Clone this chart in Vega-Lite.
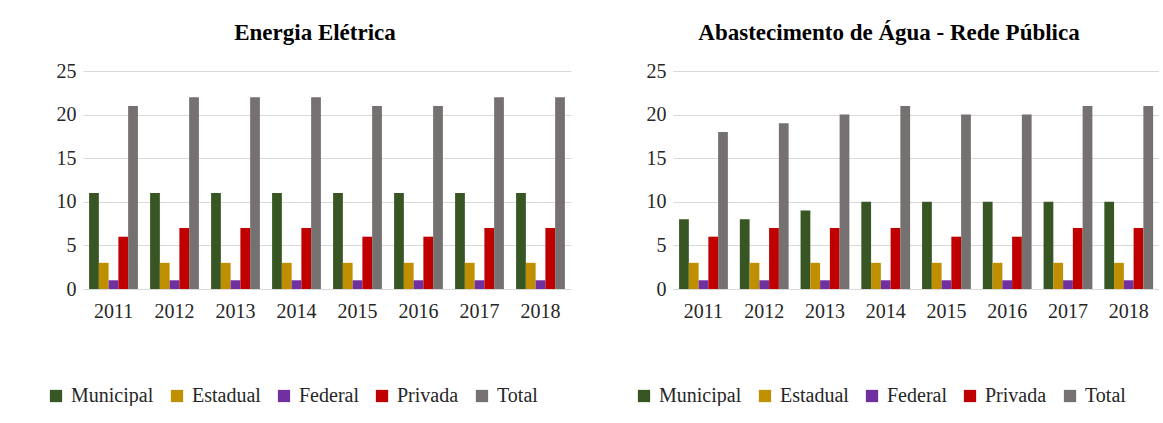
{
  "$schema": "https://vega.github.io/schema/vega-lite/v6.json",
  "background": "white",
  "padding": {"left": 46, "top": 22, "right": 0, "bottom": 0},
  "spacing": 63,
  "datasets": {
    "energia": [
      {"ano": "2011", "tipo": "Municipal", "valor": 11}, {"ano": "2011", "tipo": "Estadual", "valor": 3}, {"ano": "2011", "tipo": "Federal", "valor": 1}, {"ano": "2011", "tipo": "Privada", "valor": 6}, {"ano": "2011", "tipo": "Total", "valor": 21},
      {"ano": "2012", "tipo": "Municipal", "valor": 11}, {"ano": "2012", "tipo": "Estadual", "valor": 3}, {"ano": "2012", "tipo": "Federal", "valor": 1}, {"ano": "2012", "tipo": "Privada", "valor": 7}, {"ano": "2012", "tipo": "Total", "valor": 22},
      {"ano": "2013", "tipo": "Municipal", "valor": 11}, {"ano": "2013", "tipo": "Estadual", "valor": 3}, {"ano": "2013", "tipo": "Federal", "valor": 1}, {"ano": "2013", "tipo": "Privada", "valor": 7}, {"ano": "2013", "tipo": "Total", "valor": 22},
      {"ano": "2014", "tipo": "Municipal", "valor": 11}, {"ano": "2014", "tipo": "Estadual", "valor": 3}, {"ano": "2014", "tipo": "Federal", "valor": 1}, {"ano": "2014", "tipo": "Privada", "valor": 7}, {"ano": "2014", "tipo": "Total", "valor": 22},
      {"ano": "2015", "tipo": "Municipal", "valor": 11}, {"ano": "2015", "tipo": "Estadual", "valor": 3}, {"ano": "2015", "tipo": "Federal", "valor": 1}, {"ano": "2015", "tipo": "Privada", "valor": 6}, {"ano": "2015", "tipo": "Total", "valor": 21},
      {"ano": "2016", "tipo": "Municipal", "valor": 11}, {"ano": "2016", "tipo": "Estadual", "valor": 3}, {"ano": "2016", "tipo": "Federal", "valor": 1}, {"ano": "2016", "tipo": "Privada", "valor": 6}, {"ano": "2016", "tipo": "Total", "valor": 21},
      {"ano": "2017", "tipo": "Municipal", "valor": 11}, {"ano": "2017", "tipo": "Estadual", "valor": 3}, {"ano": "2017", "tipo": "Federal", "valor": 1}, {"ano": "2017", "tipo": "Privada", "valor": 7}, {"ano": "2017", "tipo": "Total", "valor": 22},
      {"ano": "2018", "tipo": "Municipal", "valor": 11}, {"ano": "2018", "tipo": "Estadual", "valor": 3}, {"ano": "2018", "tipo": "Federal", "valor": 1}, {"ano": "2018", "tipo": "Privada", "valor": 7}, {"ano": "2018", "tipo": "Total", "valor": 22}
    ],
    "agua": [
      {"ano": "2011", "tipo": "Municipal", "valor": 8}, {"ano": "2011", "tipo": "Estadual", "valor": 3}, {"ano": "2011", "tipo": "Federal", "valor": 1}, {"ano": "2011", "tipo": "Privada", "valor": 6}, {"ano": "2011", "tipo": "Total", "valor": 18},
      {"ano": "2012", "tipo": "Municipal", "valor": 8}, {"ano": "2012", "tipo": "Estadual", "valor": 3}, {"ano": "2012", "tipo": "Federal", "valor": 1}, {"ano": "2012", "tipo": "Privada", "valor": 7}, {"ano": "2012", "tipo": "Total", "valor": 19},
      {"ano": "2013", "tipo": "Municipal", "valor": 9}, {"ano": "2013", "tipo": "Estadual", "valor": 3}, {"ano": "2013", "tipo": "Federal", "valor": 1}, {"ano": "2013", "tipo": "Privada", "valor": 7}, {"ano": "2013", "tipo": "Total", "valor": 20},
      {"ano": "2014", "tipo": "Municipal", "valor": 10}, {"ano": "2014", "tipo": "Estadual", "valor": 3}, {"ano": "2014", "tipo": "Federal", "valor": 1}, {"ano": "2014", "tipo": "Privada", "valor": 7}, {"ano": "2014", "tipo": "Total", "valor": 21},
      {"ano": "2015", "tipo": "Municipal", "valor": 10}, {"ano": "2015", "tipo": "Estadual", "valor": 3}, {"ano": "2015", "tipo": "Federal", "valor": 1}, {"ano": "2015", "tipo": "Privada", "valor": 6}, {"ano": "2015", "tipo": "Total", "valor": 20},
      {"ano": "2016", "tipo": "Municipal", "valor": 10}, {"ano": "2016", "tipo": "Estadual", "valor": 3}, {"ano": "2016", "tipo": "Federal", "valor": 1}, {"ano": "2016", "tipo": "Privada", "valor": 6}, {"ano": "2016", "tipo": "Total", "valor": 20},
      {"ano": "2017", "tipo": "Municipal", "valor": 10}, {"ano": "2017", "tipo": "Estadual", "valor": 3}, {"ano": "2017", "tipo": "Federal", "valor": 1}, {"ano": "2017", "tipo": "Privada", "valor": 7}, {"ano": "2017", "tipo": "Total", "valor": 21},
      {"ano": "2018", "tipo": "Municipal", "valor": 10}, {"ano": "2018", "tipo": "Estadual", "valor": 3}, {"ano": "2018", "tipo": "Federal", "valor": 1}, {"ano": "2018", "tipo": "Privada", "valor": 7}, {"ano": "2018", "tipo": "Total", "valor": 21}
    ]
  },
  "config": {
    "font": "Liberation Serif",
    "view": {"stroke": null},
    "axis": {
      "labelFont": "Liberation Serif",
      "labelFontSize": 20,
      "labelColor": "#262626",
      "ticks": false,
      "domain": false,
      "gridColor": "#d9d9d9",
      "gridWidth": 1
    },
    "title": {
      "font": "Liberation Serif",
      "fontSize": 23,
      "fontWeight": "bold",
      "color": "#000000",
      "offset": 16
    },
    "legend": {
      "orient": "none",
      "direction": "horizontal",
      "legendY": 315,
      "title": null,
      "symbolType": "square",
      "symbolSize": 150,
      "symbolStrokeWidth": 0,
      "symbolOpacity": 1,
      "labelFont": "Liberation Serif",
      "labelFontSize": 20,
      "labelColor": "#262626",
      "labelOffset": 5,
      "columnPadding": 13,
      "labelLimit": 200
    }
  },
  "resolve": {"scale": {"color": "independent"}},
  "hconcat": [
    {
      "title": {"text": "Energia Elétrica", "dx": -12},
      "width": 488,
      "height": 218,
      "data": {"name": "energia"},
      "mark": {"type": "bar"},
      "encoding": {
        "x": {"field": "ano", "type": "nominal", "title": null, "scale": {"paddingInner": 0.2, "paddingOuter": 0.1}, "axis": {"labelAngle": 0, "labelPadding": 12, "grid": false}},
        "xOffset": {"field": "tipo", "type": "nominal", "sort": ["Municipal", "Estadual", "Federal", "Privada", "Total"]},
        "y": {"field": "valor", "type": "quantitative", "title": null, "scale": {"domain": [0, 25]}, "axis": {"values": [0, 5, 10, 15, 20, 25], "labelPadding": 7}},
        "color": {"field": "tipo", "type": "nominal", "scale": {"domain": ["Municipal", "Estadual", "Federal", "Privada", "Total"], "range": ["#375623", "#BF8F00", "#7030A0", "#C00000", "#767171"]}, "legend": {"legendX": -37}}
      }
    },
    {
      "title": {"text": "Abastecimento de Água - Rede Pública", "dx": -27},
      "width": 486,
      "height": 218,
      "data": {"name": "agua"},
      "mark": {"type": "bar"},
      "encoding": {
        "x": {"field": "ano", "type": "nominal", "title": null, "scale": {"paddingInner": 0.2, "paddingOuter": 0.1}, "axis": {"labelAngle": 0, "labelPadding": 12, "grid": false}},
        "xOffset": {"field": "tipo", "type": "nominal", "sort": ["Municipal", "Estadual", "Federal", "Privada", "Total"]},
        "y": {"field": "valor", "type": "quantitative", "title": null, "scale": {"domain": [0, 25]}, "axis": {"values": [0, 5, 10, 15, 20, 25], "labelPadding": 7}},
        "color": {"field": "tipo", "type": "nominal", "scale": {"domain": ["Municipal", "Estadual", "Federal", "Privada", "Total"], "range": ["#375623", "#BF8F00", "#7030A0", "#C00000", "#767171"]}, "legend": {"legendX": -39}}
      }
    }
  ]
}
